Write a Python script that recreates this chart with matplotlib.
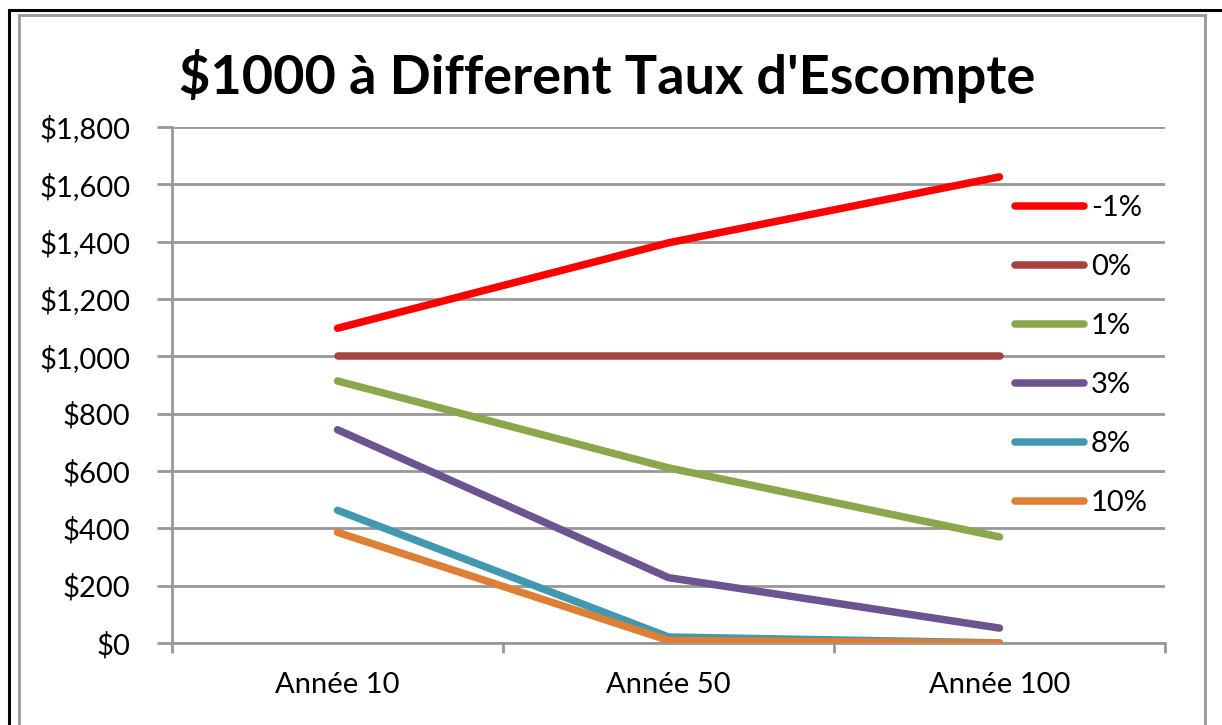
import matplotlib.pyplot as plt
from matplotlib.lines import Line2D
from matplotlib.ticker import FuncFormatter, FixedLocator

plt.rcParams['font.family'] = ['Lato', 'DejaVu Sans']

annees = ['Année 10', 'Année 50', 'Année 100']
taux = ['-1%', '0%', '1%', '3%', '8%', '10%']
valeurs = {
    '-1%': [1098, 1396, 1626],
    '0%': [1000, 1000, 1000],
    '1%': [914, 611, 370],
    '3%': [744, 228, 52],
    '8%': [463, 21, 0.5],
    '10%': [386, 9, 0.1],
}
couleurs = ['#FF0000', '#A6433F', '#8AA84B', '#6B5490', '#4198AF', '#DD7F35']

W, H = 1222, 725
fig = plt.figure(figsize=(W / 100, H / 100), dpi=100)
ax = fig.add_axes([172 / W, 1 - 643 / H, (1165 - 172) / W, (643 - 127) / H])

x = list(range(len(annees)))
for t, c in zip(taux, couleurs):
    ax.plot(x, valeurs[t], color=c, lw=5.4, solid_capstyle='round', label=t, zorder=3)

ax.set_xlim(-0.5, 2.5)
ax.set_ylim(0, 1800)
ax.set_yticks(range(0, 1801, 200))
ax.yaxis.set_major_formatter(FuncFormatter(lambda v, p: f'${v:,.0f}'))
ax.set_xticks(x)
ax.set_xticklabels(annees)
ax.xaxis.set_minor_locator(FixedLocator([-0.5, 0.5, 1.5, 2.5]))

gris = '#989898'
ax.grid(axis='y', color=gris, lw=2, zorder=1)
for s in ['top', 'right']:
    ax.spines[s].set_visible(False)
for s in ['left', 'bottom']:
    ax.spines[s].set_color(gris)
    ax.spines[s].set_linewidth(2)
ax.tick_params(axis='y', length=11, width=2, color=gris, pad=19, labelsize=21)
ax.tick_params(axis='x', which='major', length=0, pad=21, labelsize=21)
ax.tick_params(axis='x', which='minor', length=7, width=2, color=gris)

ax.legend(loc='upper left', bbox_to_anchor=(0.849, 0.868), frameon=False,
          fontsize=21, handlelength=2.35, handletextpad=0.25, labelspacing=1.13,
          borderpad=0, borderaxespad=0)

fig.text(0.497, 1 - 76 / H, "$1000 à Different Taux d'Escompte", ha='center', va='center',
         fontsize=39, fontweight='bold')

# cadres
def px(xp, yp):
    return xp / W, 1 - yp / H

for (x0, y0), (x1, y1), col, lw in [
    ((9, 10), (W, 10), 'black', 2.2),
    ((9, 10), (9, H), 'black', 2.2),
    ((19, 15), (1205, 15), gris, 2),
    ((19, 15), (19, H), gris, 2),
    ((1205, 15), (1205, H), gris, 2),
]:
    a, b = px(x0, y0)
    c, d = px(x1, y1)
    fig.add_artist(Line2D([a, c], [b, d], color=col, lw=lw, transform=fig.transFigure))

fig.savefig('out.png', dpi=100)
